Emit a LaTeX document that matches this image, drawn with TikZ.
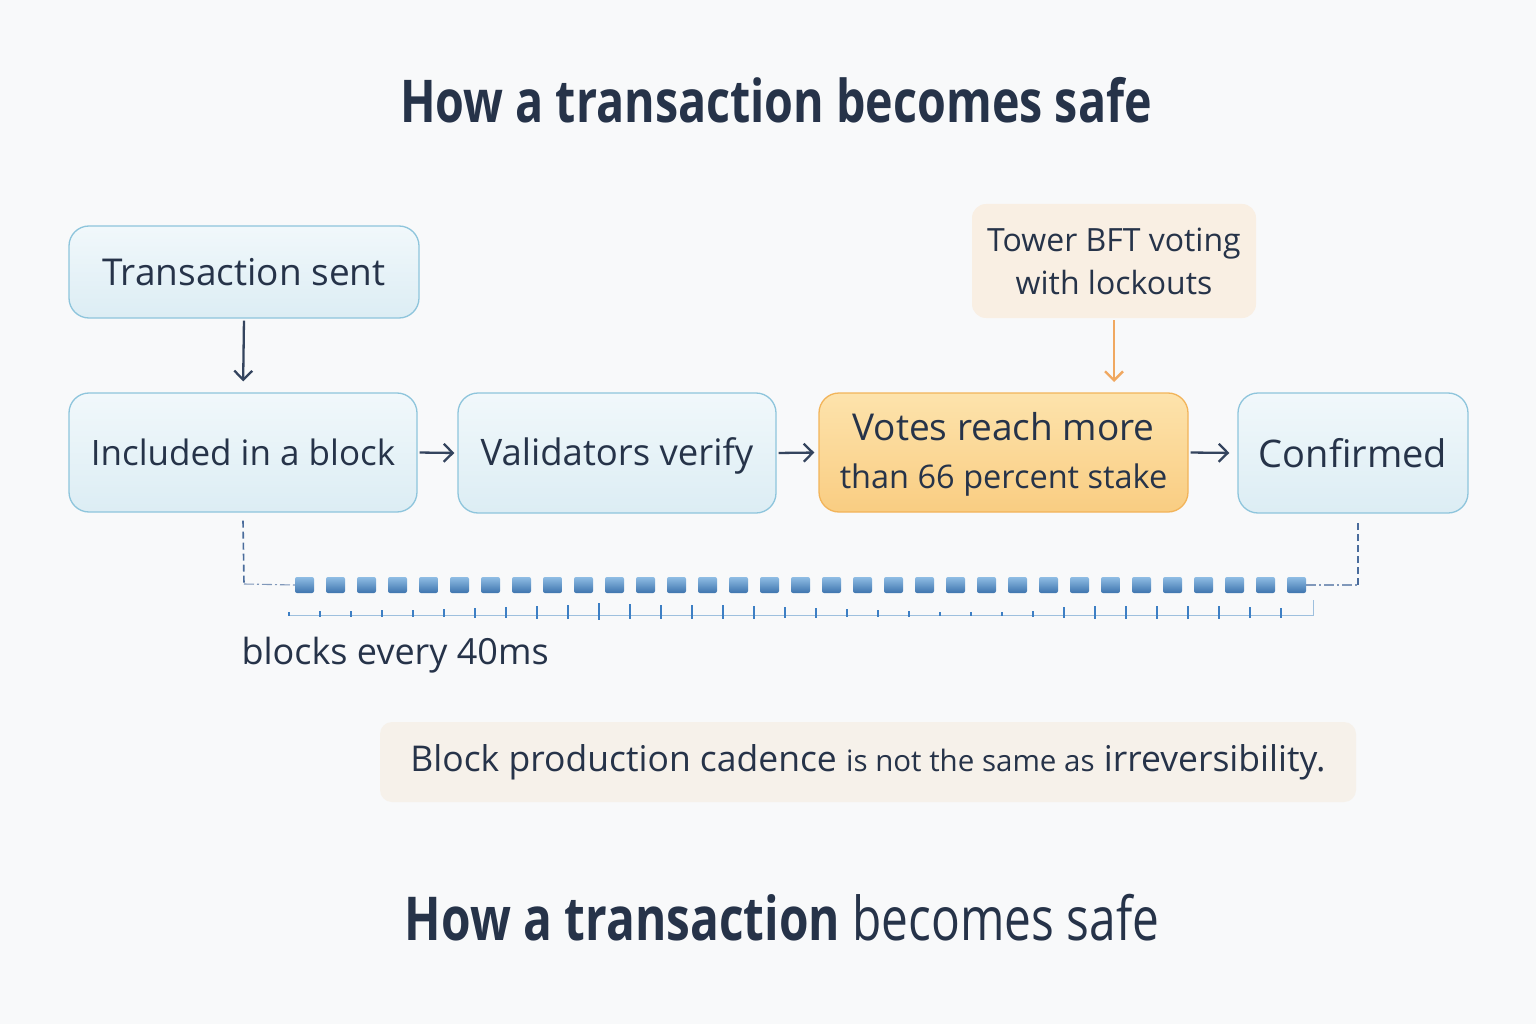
\documentclass[tikz,border=0pt]{standalone}
\usepackage{fontspec}
\setmainfont{Open Sans}
\newfontfamily\titlefont[FakeStretch=0.79]{Open Sans}
\usetikzlibrary{arrows.meta}
\definecolor{bg}{HTML}{F8F9FA}
\definecolor{ink}{HTML}{263349}
\definecolor{arrowc}{HTML}{34445E}
\definecolor{boxline}{HTML}{8EC5DC}
\definecolor{boxtop}{HTML}{F1F8FB}
\definecolor{boxbot}{HTML}{DCEDF4}
\definecolor{orline}{HTML}{F2B45A}
\definecolor{ortop}{HTML}{FDE3AC}
\definecolor{orbot}{HTML}{F9CD82}
\definecolor{towerfill}{HTML}{F9EFE3}
\definecolor{notefill}{HTML}{F6F1EA}
\definecolor{orarrow}{HTML}{F0A860}
\definecolor{blktop}{HTML}{8FBDE4}
\definecolor{blkbot}{HTML}{3E74AE}
\definecolor{tickc}{HTML}{3D7FC4}
\definecolor{tickline}{HTML}{9EC0DE}
\definecolor{dashc}{HTML}{4A6C9C}
\tikzset{
  stepbox/.style={draw=boxline, line width=1.3pt, rounded corners=20pt, top color=boxtop, bottom color=boxbot, text=ink, align=center, inner sep=0pt, font=\fontsize{35}{46}\selectfont},
  orbox/.style={draw=orline, line width=1.3pt, rounded corners=20pt, top color=ortop, bottom color=orbot, text=ink, align=center, inner sep=0pt, font=\fontsize{35}{48}\selectfont},
  towerbox/.style={fill=towerfill, rounded corners=14pt, text=ink, align=center, inner sep=0pt, font=\fontsize{32}{43}\selectfont},
  flow/.style={draw=arrowc, line width=2.3pt, -{Straight Barb[length=9pt,width=18pt,line width=2.3pt]}},
  orflow/.style={draw=orarrow, line width=2.4pt, -{Straight Barb[length=9pt,width=18pt,line width=2.4pt]}},
  blk/.style={rounded corners=2pt, top color=blktop, bottom color=blkbot, minimum width=19pt, minimum height=16pt, inner sep=0pt},
  dashv/.style={draw=dashc, line width=1.6pt, dash pattern=on 7pt off 4pt},
  dashh/.style={draw=dashc!70, line width=1.1pt, dash pattern=on 10pt off 3pt on 2pt off 3pt},
  tick/.style={draw=tickc, line width=1.6pt},
}
\begin{document}
\begin{tikzpicture}[x=1pt,y=-1pt]
\fill[bg] (0,0) rectangle (1536,1024);
\useasboundingbox (0,0) rectangle (1536,1024);

\node[text=ink, font=\titlefont\bfseries\fontsize{59}{70}\selectfont] (title) at (776,100) {How a transaction becomes safe};

\node[stepbox, minimum width=350pt, minimum height=92pt, font=\fontsize{37}{46}\selectfont] (sent) at (244,272) {Transaction sent};
\node[stepbox, minimum width=348pt, minimum height=119pt] (incl) at (243,452.5) {Included in a block};
\node[stepbox, minimum width=318pt, minimum height=120pt, font=\fontsize{36.5}{46}\selectfont, text height=27pt, text depth=3pt] (valid) at (617,453) {Validators verify};
\node[orbox, minimum width=369pt, minimum height=119pt] (votes) at (1003.5,452.5) {\rule{0pt}{31pt}{\fontsize{37}{48}\selectfont Votes reach more}\\{\fontsize{32.5}{48}\selectfont than 66 percent stake}};
\node[stepbox, minimum width=230pt, minimum height=120pt, font=\fontsize{38}{46}\selectfont] (conf) at (1353,453) {Confirmed};
\node[towerbox, minimum width=284pt, minimum height=114pt] (tower) at (1114,261) {Tower BFT voting\\with lockouts};

\draw[flow, shorten <=2pt, shorten >=11pt] (sent.south) -- (incl.north);
\draw[flow, shorten <=2pt, shorten >=3pt] (incl.east) -- (valid.west);
\draw[flow, shorten <=2pt, shorten >=4pt] (valid.east) -- (votes.west);
\draw[flow, shorten <=2pt, shorten >=8pt] (votes.east) -- (conf.west);
\draw[orflow, shorten <=2pt, shorten >=11pt] (tower.south) -- (1114,393);

% blocks
\foreach \i in {0,...,32} {
  \node[blk] (b\i) at ({304.5+31*\i},585) {};
}
\coordinate (lc) at (244,584);
\coordinate (rc) at (1358,585);
\draw[dashv] ([yshift=-8pt]incl.south) -- (lc);
\draw[dashh] (lc) -- (b0.west);
\draw[dashh] (b32.east) -- (rc);
\draw[dashv] (rc) -- ([yshift=-9pt]conf.south -| rc);

% tick line
\coordinate (t0) at (289,615);
\coordinate (t1) at (1313,615);
\draw[draw=tickline, line width=1pt] (t0) -- (t1) -- (1313,600);
\foreach \h [count=\i from 0] in {3,4,4,5,5,6,7,8,9,10,12,11,10,10,10,9,8,7,6,5,4,3,3,3,4,8,9,9,9,9,9,8,7} {
  \draw[tick] ({289+31*\i},{615-\h}) -- ({289+31*\i},{615+\h*0.4});
}

\node[anchor=west, text=ink, font=\fontsize{36}{40}\selectfont] (lbl) at (238,655) {blocks every 40ms};

\node[fill=notefill, rounded corners=12pt, minimum width=976pt, minimum height=80pt, inner sep=0pt, text=ink] (note) at (868,762)
  {\fontsize{35.5}{40}\selectfont Block production cadence {\fontsize{29.5}{40}\selectfont is not the same as} irreversibility.};

\node[text=ink, font=\titlefont\fontsize{60.5}{70}\selectfont] (foot) at (782,918) {\bfseries How a transaction \mdseries becomes safe};
\end{tikzpicture}
\end{document}
